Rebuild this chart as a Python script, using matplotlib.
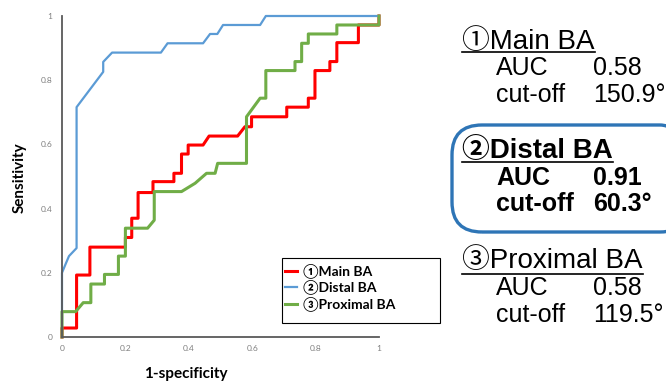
import matplotlib
matplotlib.use("Agg")
import matplotlib.pyplot as plt
from matplotlib.patches import Rectangle, FancyBboxPatch
from matplotlib.lines import Line2D

plt.rcParams['font.family'] = ['Lato', 'Noto Sans CJK JP', 'DejaVu Sans']

# ROC curves (1-specificity, sensitivity)
main_x = [0, 0, 0.046, 0.046, 0.088, 0.088, 0.2, 0.2, 0.22, 0.22, 0.24, 0.24,
          0.287, 0.287, 0.353, 0.353, 0.377, 0.377, 0.398, 0.398, 0.445, 0.464,
          0.554, 0.577, 0.598, 0.598, 0.709, 0.709, 0.777, 0.777, 0.798, 0.798,
          0.845, 0.845, 0.867, 0.867, 0.935, 0.935, 1.0, 1.0]
main_y = [0, 0.028, 0.028, 0.193, 0.193, 0.28, 0.28, 0.31, 0.31, 0.37, 0.37, 0.45,
          0.45, 0.484, 0.484, 0.51, 0.51, 0.57, 0.57, 0.598, 0.598, 0.626,
          0.626, 0.655, 0.655, 0.686, 0.686, 0.716, 0.716, 0.744, 0.744, 0.83,
          0.83, 0.858, 0.858, 0.917, 0.917, 0.972, 0.972, 1.0]

distal_x = [0, 0, 0.01, 0.022, 0.046, 0.046, 0.13, 0.13, 0.158, 0.312, 0.333,
            0.445, 0.467, 0.49, 0.508, 0.625, 0.643, 1.0]
distal_y = [0, 0.2, 0.224, 0.252, 0.277, 0.716, 0.826, 0.857, 0.886, 0.886, 0.915,
            0.915, 0.944, 0.944, 0.972, 0.972, 1.0, 1.0]

prox_x = [0, 0, 0.043, 0.067, 0.091, 0.091, 0.134, 0.134, 0.178, 0.178, 0.2, 0.2,
          0.27, 0.291, 0.291, 0.377, 0.42, 0.456, 0.483, 0.491, 0.582, 0.582,
          0.625, 0.643, 0.643, 0.735, 0.735, 0.756, 0.756, 0.777, 0.777, 0.867,
          0.867, 1.0, 1.0]
prox_y = [0, 0.079, 0.079, 0.107, 0.107, 0.165, 0.165, 0.195, 0.195, 0.252, 0.252,
          0.339, 0.339, 0.364, 0.453, 0.453, 0.479, 0.51, 0.51, 0.541, 0.541,
          0.686, 0.744, 0.744, 0.83, 0.83, 0.858, 0.858, 0.915, 0.915, 0.944,
          0.944, 0.972, 0.972, 1.0]

labels = ['①Main BA', '②Distal BA', '③Proximal BA']
colors = ['#ff0000', '#5b9bd5', '#70ad47']
auc = ['0.58', '0.91', '0.58']
cutoff = ['150.9°', '60.3°', '119.5°']
ticks = [0, 0.2, 0.4, 0.6, 0.8, 1]
tick_labels = ['0', '0.2', '0.4', '0.6', '0.8', '1']

W, H = 666, 384
fig = plt.figure(figsize=(W / 100, H / 100), dpi=100)

def fx(x):
    return x / W

def fy(y):
    return 1 - y / H

ax = fig.add_axes([fx(62), fy(337), (379 - 62) / W, (337 - 16) / H])
ax.plot(main_x, main_y, color=colors[0], lw=2.2, label=labels[0], clip_on=False)
ax.plot(distal_x, distal_y, color=colors[1], lw=1.6, label=labels[1], clip_on=False)
ax.plot(prox_x, prox_y, color=colors[2], lw=2.2, label=labels[2], clip_on=False)

ax.set_xlim(0, 1)
ax.set_ylim(0, 1)
ax.set_xticks(ticks)
ax.set_xticklabels(tick_labels)
ax.set_yticks(ticks)
ax.set_yticklabels(tick_labels)
ax.tick_params(length=0, labelsize=6, labelcolor='#7f7f7f')
ax.tick_params(axis='x', pad=6)
ax.tick_params(axis='y', pad=7)
for s in ['top', 'right']:
    ax.spines[s].set_visible(False)
for s in ['left', 'bottom']:
    ax.spines[s].set_color('#595959')
    ax.spines[s].set_linewidth(1.3)

fig.text(fx(20), fy(178), 'Sensitivity', rotation=90, fontsize=11,
         fontweight='bold', ha='center', va='center')
fig.text(fx(186), fy(374), '1-specificity', fontsize=11,
         fontweight='bold', ha='center', va='center')

# legend
fig.patches.append(Rectangle((fx(282), fy(323)), (440 - 282) / W, (323 - 258) / H,
                             transform=fig.transFigure, fill=False,
                             edgecolor='black', lw=0.8))
fig.legend(loc='upper left', bbox_to_anchor=(fx(282), fy(261)), frameon=False,
           prop={'weight': 'bold', 'size': 10}, handlelength=0.9,
           handletextpad=0.4, labelspacing=0.12, borderpad=0.2, borderaxespad=0)

# highlighted box around Distal BA
fig.patches.append(FancyBboxPatch((fx(452), fy(232)), (690 - 452) / W, (232 - 125) / H,
                                  boxstyle='round,pad=0,rounding_size=0.045',
                                  transform=fig.transFigure, fill=False,
                                  edgecolor='#2e75b6', lw=2.4, mutation_aspect=W / H))

title_y = [49, 158, 268]
auc_y = [75, 185, 295]
cut_y = [102, 211, 322]
rfont = ['Liberation Sans', 'Noto Sans CJK JP', 'DejaVu Sans']
titles = []
for i in range(3):
    w = 'bold' if i == 1 else 'normal'
    t = fig.text(fx(462), fy(title_y[i]), labels[i], fontsize=20, family=rfont,
                 fontweight=w, va='baseline')
    titles.append(t)
    fig.text(fx(496), fy(auc_y[i]), 'AUC', fontsize=18, family=rfont,
             fontweight=w, va='baseline')
    fig.text(fx(593), fy(auc_y[i]), auc[i], fontsize=18, family=rfont,
             fontweight=w, va='baseline')
    fig.text(fx(496), fy(cut_y[i]), 'cut-off', fontsize=18, family=rfont,
             fontweight=w, va='baseline')
    fig.text(fx(593), fy(cut_y[i]), cutoff[i], fontsize=18, family=rfont,
             fontweight=w, va='baseline')

# underline the titles
fig.canvas.draw()
r = fig.canvas.get_renderer()
under_y = [52, 162, 274]
for i, t in enumerate(titles):
    bb = t.get_window_extent(r)
    fig.add_artist(Line2D([fx(462), bb.x1 / W], [fy(under_y[i]), fy(under_y[i])],
                          transform=fig.transFigure, color='black', lw=1.2))

fig.savefig('out.png', dpi=100)
